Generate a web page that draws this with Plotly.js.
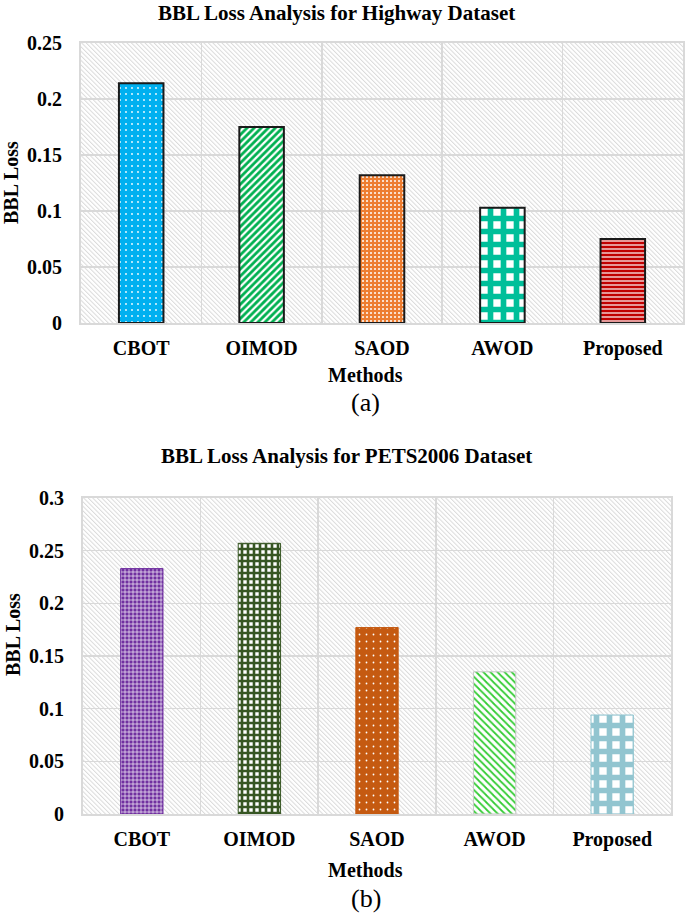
<!DOCTYPE html>
<html>
<head>
<meta charset="utf-8">
<script src="https://cdn.plot.ly/plotly-3.0.1.min.js"></script>
<style>html,body{margin:0;padding:0;background:#fff;}#chart{width:685px;height:916px;}</style>
</head>
<body>
<div id="chart"></div>
<script>
// ---- data ----
const categories = ['CBOT', 'OIMOD', 'SAOD', 'AWOD', 'Proposed'];
const highwayLoss = [0.214, 0.175, 0.132, 0.103, 0.075];
const petsLoss = [0.233, 0.257, 0.177, 0.135, 0.094];
const highwayTitle = 'BBL Loss Analysis for Highway Dataset';
const petsTitle = 'BBL Loss Analysis for PETS2006 Dataset';
const yTitle = 'BBL Loss';
const xTitle = 'Methods';
const panelLabels = ['(a)', '(b)'];
const highwayRange = [0, 0.25];
const petsRange = [0, 0.3];

// ---- styles ----
const W = 685, H = 916;
const FONT = 'Liberation Serif, Times New Roman, serif';

const highwayStyle = {
  shape:    ['.', '/', '.', '+', '-'],
  fg:       ['#ffffff', '#ffffff', '#ffffff', '#00BF9A', '#ffffff'],
  bg:       ['#00B0F0', '#00B050', '#ED7D31', '#ffffff', '#C00000'],
  size:     [6, 5, 4, 13, 4],
  solidity: [0.07, 0.45, 0.2, 0.68, 0.3],
  line:     ['#1a1a1a', '#1a1a1a', '#1a1a1a', '#1a1a1a', '#1a1a1a'],
  lineWidth: 2
};
const petsStyle = {
  shape:    ['+', '+', '.', '\\', '+'],
  fg:       ['#ffffff', '#375623', '#ffffff', '#33CC33', '#92C5D0'],
  bg:       ['#7030A0', '#ffffff', '#C55A11', '#ffffff', '#ffffff'],
  size:     [4, 6, 7, 5, 13],
  solidity: [0.3, 0.68, 0.05, 0.35, 0.68],
  line:     ['#7030A0', '#375623', '#C55A11', '#c8c8c8', '#92C5D0'],
  lineWidth: 1
};

// plot areas in pixels
const boxA = {l: 81, r: 683, t: 43, b: 323};
const boxB = {l: 83, r: 671, t: 498, b: 814};
const dx = b => [b.l / W, b.r / W];
const dy = b => [1 - b.b / H, 1 - b.t / H];
const px = x => x / W;
const py = y => 1 - y / H;

function hatch(w, h) {
  const svg = `<svg xmlns="http://www.w3.org/2000/svg" width="${w}" height="${h}" viewBox="0 0 ${w} ${h}"><defs><pattern id="p" width="3.2" height="3.2" patternUnits="userSpaceOnUse" patternTransform="rotate(-45)"><line x1="0.5" y1="0" x2="0.5" y2="3.2" stroke="#dadada" stroke-width="1"/></pattern></defs><rect width="${w}" height="${h}" fill="url(#p)"/></svg>`;
  return 'data:image/svg+xml;charset=utf-8,' + encodeURIComponent(svg);
}

function makeTraces(values, style, xa, ya, width) {
  return categories.map((c, i) => ({
    type: 'bar', x: [c], y: [values[i]], xaxis: xa, yaxis: ya,
    width: width,
    marker: {
      color: style.bg[i],
      line: {color: style.line[i], width: style.lineWidth},
      pattern: {
        shape: style.shape[i], fgcolor: style.fg[i], bgcolor: style.bg[i],
        size: style.size[i], solidity: style.solidity[i], fillmode: 'replace'
      }
    },
    hoverinfo: 'skip', showlegend: false
  }));
}

const traces = makeTraces(highwayLoss, highwayStyle, 'x', 'y', 0.37)
  .concat(makeTraces(petsLoss, petsStyle, 'x2', 'y2', 0.36));

const tickFont = {family: FONT, size: 20, color: '#000', weight: 'bold'};

function xax(box) {
  return {
    domain: dx(box), type: 'category', tickson: 'boundaries',
    categoryorder: 'array', categoryarray: categories,
    showgrid: true, gridcolor: '#d9d9d9', gridwidth: 1.5,
    showline: true, mirror: true, linecolor: '#d9d9d9', linewidth: 2,
    ticks: '', ticklabelstandoff: 6,
    tickfont: tickFont, zeroline: false, fixedrange: true
  };
}
function yax(box, range) {
  return {
    domain: dy(box), range: range, dtick: 0.05,
    showgrid: true, gridcolor: '#d9d9d9', gridwidth: 1.5,
    showline: true, mirror: true, linecolor: '#d9d9d9', linewidth: 2,
    ticks: 'outside', ticklen: 13, tickcolor: 'rgba(0,0,0,0)',
    tickfont: tickFont, zeroline: false, fixedrange: true
  };
}

const boldText = (size) => ({family: FONT, size: size, color: '#000', weight: 'bold'});
const ann = (text, x, y, font, extra) => Object.assign({
  text: text, xref: 'paper', yref: 'paper', x: px(x), y: py(y),
  xanchor: 'center', yanchor: 'middle', showarrow: false, font: font
}, extra || {});

const layout = {
  width: W, height: H,
  margin: {l: 0, r: 0, t: 0, b: 0},
  paper_bgcolor: '#ffffff', plot_bgcolor: 'rgba(0,0,0,0)',
  barmode: 'overlay',
  xaxis: xax(boxA), yaxis: yax(boxA, highwayRange),
  xaxis2: Object.assign(xax(boxB), {anchor: 'y2'}),
  yaxis2: Object.assign(yax(boxB, petsRange), {anchor: 'x2'}),
  images: [
    {source: hatch(boxA.r - boxA.l, boxA.b - boxA.t), xref: 'x domain', yref: 'y domain',
     x: 0, y: 1, sizex: 1, sizey: 1, sizing: 'stretch', xanchor: 'left', yanchor: 'top', layer: 'below'},
    {source: hatch(boxB.r - boxB.l, boxB.b - boxB.t), xref: 'x2 domain', yref: 'y2 domain',
     x: 0, y: 1, sizex: 1, sizey: 1, sizing: 'stretch', xanchor: 'left', yanchor: 'top', layer: 'below'}
  ],
  annotations: [
    ann(highwayTitle, 336, 13, boldText(21)),
    ann(petsTitle, 346, 456, boldText(21)),
    ann(yTitle, 11, 183, boldText(20), {textangle: -90}),
    ann(yTitle, 13, 635, boldText(20), {textangle: -90}),
    ann(xTitle, 365, 375, boldText(20)),
    ann(xTitle, 365, 870, boldText(20)),
    ann(panelLabels[0], 365, 402, {family: FONT, size: 26, color: '#000'}),
    ann(panelLabels[1], 366, 898, {family: FONT, size: 26, color: '#000'})
  ]
};

Plotly.newPlot('chart', traces, layout, {displayModeBar: false, staticPlot: true});
</script>
</body>
</html>
